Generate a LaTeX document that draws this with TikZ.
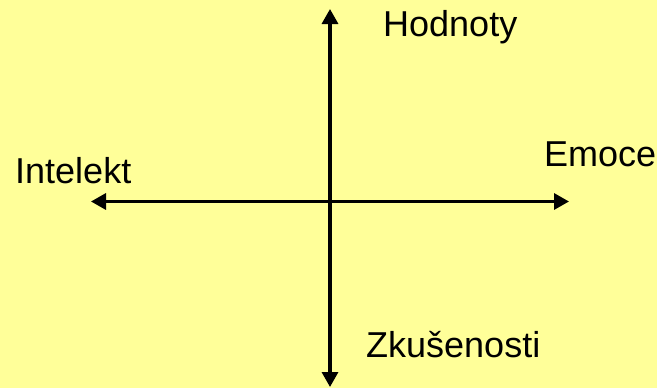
\documentclass[tikz,border=0pt]{standalone}
\usepackage{fontspec}
\setmainfont{Liberation Sans}
\usetikzlibrary{arrows.meta}
\definecolor{bgyellow}{HTML}{FFFF99}
\begin{document}
\begin{tikzpicture}[x=1pt,y=-1pt,
  axis/.style={line width=3.3pt,{Triangle[length=15pt,width=16pt]}-{Triangle[length=15pt,width=16pt]}},
  lbl/.style={anchor=base west,inner sep=0pt,font=\fontsize{36}{40}\selectfont}]
\fill[bgyellow] (0,0) rectangle (657,388);
\useasboundingbox (0,0) rectangle (657,388);
\coordinate (top) at (330,9);
\coordinate (bottom) at (330,387);
\coordinate (left) at (91,201.5);
\coordinate (right) at (569,201.5);
\draw[axis] (bottom) -- (top);
\draw[axis] (left) -- (right);
\node[lbl] (hod) at (383,37) {Hodnoty};
\node[lbl] (zku) at (366,357) {Zkušenosti};
\node[lbl] (int) at (15,183) {Intelekt};
\node[lbl] (emo) at (544,166) {Emoce};
\end{tikzpicture}
\end{document}
